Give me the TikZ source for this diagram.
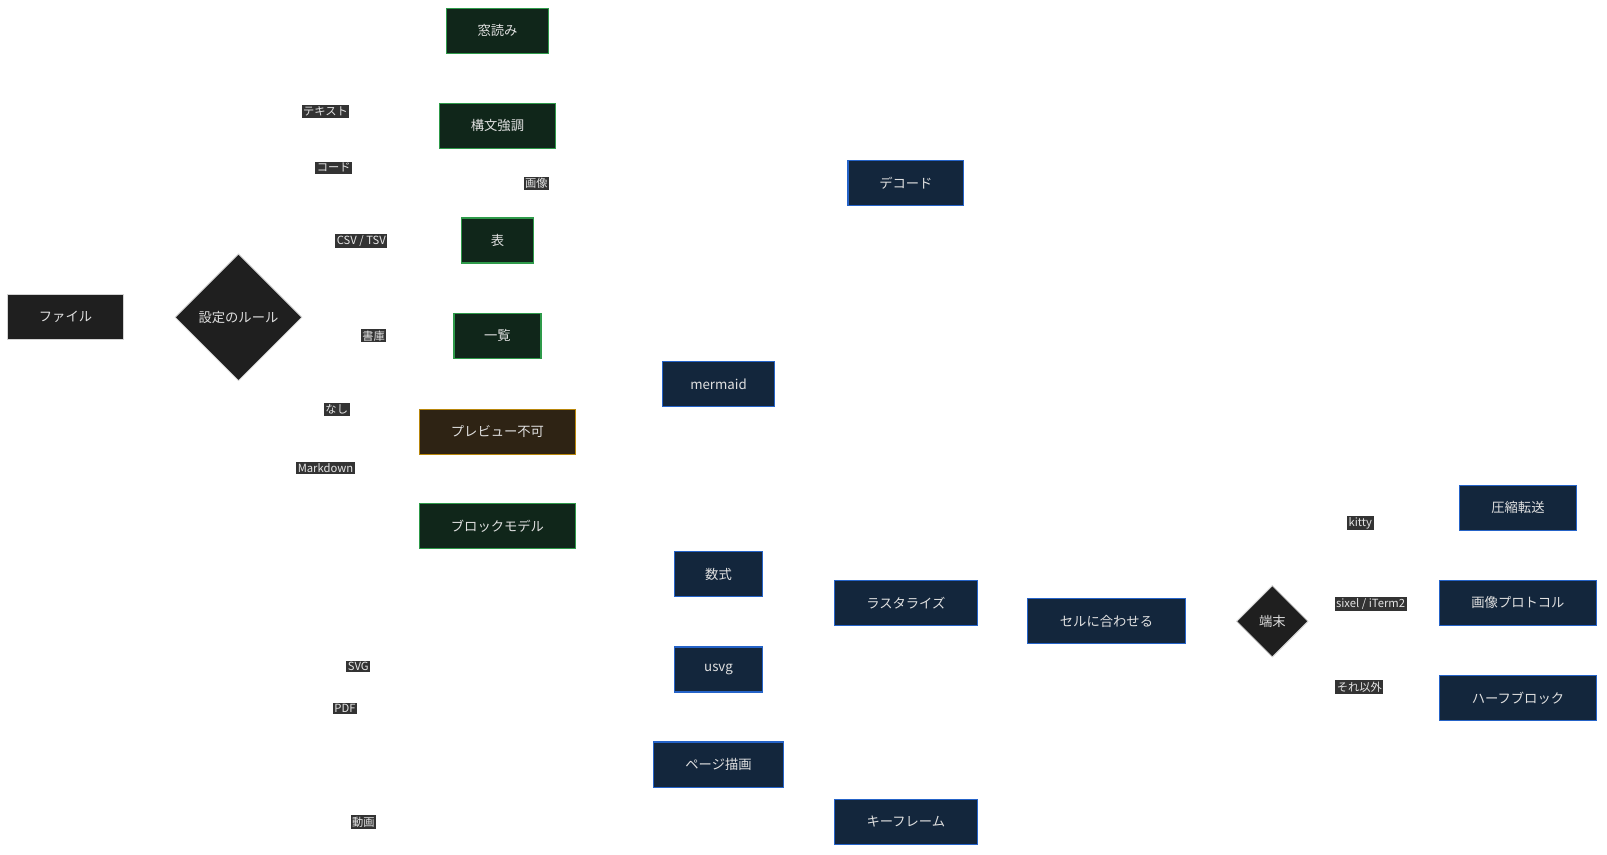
\documentclass[tikz,border=0pt]{standalone}
\usepackage{fontspec}
\setmainfont{Noto Sans CJK JP}
\usetikzlibrary{shapes.geometric,arrows.meta,backgrounds}
\definecolor{edge}{HTML}{D3D3D3}
\definecolor{gfill}{HTML}{10261A}\definecolor{gline}{HTML}{2E9A4A}
\definecolor{bfill}{HTML}{13263C}\definecolor{bline}{HTML}{2563C8}
\definecolor{ofill}{HTML}{2E2314}\definecolor{oline}{HTML}{B8860B}
\definecolor{dfill}{HTML}{1F1F1F}\definecolor{lfill}{HTML}{333333}
\tikzset{
 box/.style={draw=#1line,fill=#1fill,line width=1.2pt,minimum height=44pt,text=white!88!black,font=\fontsize{13}{13}\selectfont,inner sep=0},
 dbox/.style={draw=edge,fill=dfill,line width=1.2pt,minimum height=44pt,text=white!88!black,font=\fontsize{13}{13}\selectfont,inner sep=0},
 dia/.style={diamond,draw=edge,fill=dfill,line width=0.8pt,text=white!88!black,font=\fontsize{13}{13}\selectfont,inner sep=0,minimum width=#1,minimum height=#1},
 lab/.style={fill=lfill,text=white!90!black,font=\fontsize{11}{11}\selectfont,inner sep=1.5pt},
 e/.style={draw=edge,line width=1.3pt,-{Triangle[length=6pt,width=6pt]}},
}
\begin{document}
\begin{tikzpicture}[x=1pt,y=-1pt]
\useasboundingbox (0,0) rectangle (1570,835);
\fill[white] (0,0) rectangle (1570,835);
\node[dbox,minimum width=113pt] (F) at (64,310) {ファイル};
\node[dia=124pt] (R) at (233,310) {設定のルール};
\node[box=g,minimum width=99pt] (W) at (486,30) {窓読み};
\node[box=g,minimum width=113pt] (S) at (486,123) {構文強調};
\node[box=g,minimum width=71pt] (T) at (486,235) {表};
\node[box=g,minimum width=85pt] (L) at (486,328) {一覧};
\node[box=o,minimum width=153pt] (P) at (486,422) {プレビュー不可};
\node[box=g,minimum width=153pt] (B) at (486,514) {ブロックモデル};
\node[box=b,minimum width=113pt] (D) at (885,179) {デコード};
\node[box=b,minimum width=110pt] (M) at (702,375) {mermaid};
\node[box=b,minimum width=86pt] (Q) at (702,561) {数式};
\node[box=b,minimum width=86pt] (U) at (702,654) {usvg};
\node[box=b,minimum width=127pt] (G) at (702,747) {ページ描画};
\node[box=b,minimum width=140pt] (Ra) at (885,589) {ラスタライズ};
\node[box=b,minimum width=140pt] (K) at (885,803) {キーフレーム};
\node[box=b,minimum width=154pt] (C) at (1081,607) {セルに合わせる};
\node[dia=70pt] (Tm) at (1243,607) {端末};
\node[box=b,minimum width=114pt] (Z) at (1483,496) {圧縮転送};
\node[box=b,minimum width=154pt] (I) at (1483,589) {画像プロトコル};
\node[box=b,minimum width=154pt] (H) at (1483,682) {ハーフブロック};
\begin{scope}[on background layer]
\draw[e] (F) -- (R);
\draw[e] (R.center) ++(0,-42) -- (302,268) |- (W);
\draw[e] (R.center) ++(0,-37) -- (307,273) |- (S);
\draw[e] (R.center) ++(0,-30) -- (312,280) |- (D);
\draw[e] (R.center) ++(0,-23) -- (318,287) |- (T);
\draw[e] (R.center) ++(0,8) -- (320,318) |- (L);
\draw[e] (R.center) ++(0,30) -- (310,340) |- (P);
\draw[e] (R.center) ++(0,35) -- (304,345) |- (B);
\draw[e] (R.center) ++(0,42) -- (300,352) |- (U);
\draw[e] (R.center) ++(0,47) -- (299,357) |- (G);
\draw[e] (R.center) ++(0,52) -- (298,362) |- (K);
\draw[e] (B.north) ++(66,0) |- (M);
\draw[e] (B.south east) ++(0,0) -- (570,536) |- (Q);
\draw[e] (M.east) -- (831,375) -- (831,560) -- (875,560) -- (Ra.north -| 875,0);
\draw[e] (Q.east) -- (798,561) -- (800,566) -- (Ra.north west |- 0,566);
\draw[e] (U.east) -- (818,654) -- (818,616) -- (850,616) -- (Ra.south -| 850,0);
\draw[e] (G.east) -- (829,747) -- (829,614) -- (870,614) -- (Ra.south -| 870,0);
\draw[e] (Ra.east) -- (988,589) -- (990,592) -- (C.west |- 0,592);
\draw[e] (D.east) -- (1027,179) -- (1027,578) -- (1075,578) -- (C.north -| 1075,0);
\draw[e] (K.east) -- (1023,803) -- (1023,634) -- (1068,634) -- (C.south -| 1068,0);
\draw[e] (C) -- (Tm);
\draw[e] (Tm.center) ++(0,-4) -- (1300,603) |- (Z);
\draw[e] (Tm.center) ++(0,-18) -- (I.west |- 0,589);
\draw[e] (Tm.center) ++(0,15) -- (1302,622) |- (H);
\end{scope}
\node[lab] (l1) at (318,109) {テキスト};
\node[lab] (l2) at (326,164) {コード};
\node[lab] (l3) at (524,179) {画像};
\node[lab] (l4) at (353,235) {CSV / TSV};
\node[lab] (l5) at (365,328) {書庫};
\node[lab] (l6) at (329,400) {なし};
\node[lab] (l7) at (318,457) {Markdown};
\node[lab] (l8) at (350,651) {SVG};
\node[lab] (l9) at (337,692) {PDF};
\node[lab] (l10) at (355,803) {動画};
\node[lab] (l11) at (1329,511) {kitty};
\node[lab] (l12) at (1339,590) {sixel / iTerm2};
\node[lab] (l13) at (1328,671) {それ以外};
\end{tikzpicture}
\end{document}
